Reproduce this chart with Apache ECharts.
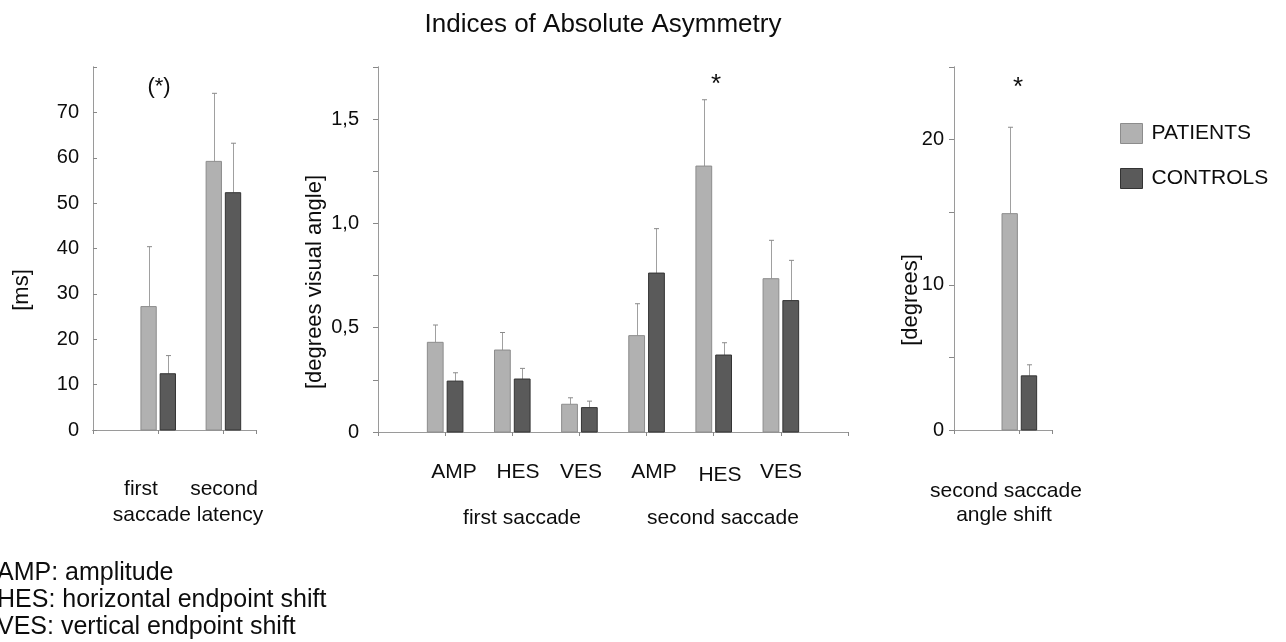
<!DOCTYPE html>
<html>
<head>
<meta charset="utf-8">
<script src="https://cdn.jsdelivr.net/npm/echarts@6/dist/echarts.min.js"></script>
<style>html,body{margin:0;padding:0;background:#fff;}#c{width:1286px;height:642px;}</style>
</head>
<body>
<div id="c"></div>
<script>
// ---- data ----
const leftPositions = [1, 2];                 // first / second saccade latency
const leftPatients = [27.2, 59.2];
const leftPatientsSD = [13.2, 15.0];
const leftControls = [12.4, 52.3];
const leftControlsSD = [4.0, 10.9];

const midPositions = [1, 2, 3, 4, 5, 6];
const midCategories = ['AMP', 'HES', 'VES', 'AMP', 'HES', 'VES'];
const midPatients = [0.43, 0.393, 0.133, 0.462, 1.275, 0.735];
const midPatientsSD = [0.083, 0.084, 0.031, 0.153, 0.318, 0.184];
const midControls = [0.244, 0.254, 0.117, 0.762, 0.369, 0.630];
const midControlsSD = [0.040, 0.051, 0.031, 0.213, 0.059, 0.193];

const rightPositions = [1];                   // second saccade angle shift
const rightPatients = [14.9];
const rightPatientsSD = [5.95];
const rightControls = [3.73];
const rightControlsSD = [0.76];

const seriesNames = ['PATIENTS', 'CONTROLS'];
const abbreviations = ['AMP: amplitude', 'HES: horizontal endpoint shift', 'VES: vertical endpoint shift'];

// ---- styles ----
const FONT = 'Liberation Sans, Arial, sans-serif';
const TEXT = '#0d0d0d';
const PAT_FILL = '#b1b1b1', PAT_STROKE = '#8c8c8c';
const CON_FILL = '#5a5a5a', CON_STROKE = '#333333';
const FRAME = '#9a9a9a';

function makeRender(side, stroke) {
  return function (params, api) {
    const c = api.value(0), v = api.value(1), sd = api.value(2);
    const xa = side < 0 ? c - 0.265 : c + 0.03;
    const xb = side < 0 ? c - 0.03 : c + 0.265;
    const tl = api.coord([xa, v]);
    const br = api.coord([xb, 0]);
    const et = api.coord([(xa + xb) / 2, v + sd]);
    const xm = Math.round((tl[0] + br[0]) / 2) + 0.5;
    return {
      type: 'group',
      children: [
        { type: 'line', shape: { x1: xm, y1: et[1], x2: xm, y2: tl[1] }, style: { stroke: '#a0a0a0', lineWidth: 1 } },
        { type: 'line', shape: { x1: xm - 2.5, y1: et[1], x2: xm + 2.5, y2: et[1] }, style: { stroke: '#8a8a8a', lineWidth: 1 } },
        { type: 'rect', shape: { x: tl[0], y: tl[1], width: br[0] - tl[0], height: br[1] - tl[1] },
          style: { fill: api.visual('color'), stroke: stroke, lineWidth: 1 } }
      ]
    };
  };
}

function mk(name, xi, yi, pos, vals, sds, side) {
  const fill = side < 0 ? PAT_FILL : CON_FILL;
  const stroke = side < 0 ? PAT_STROKE : CON_STROKE;
  return {
    type: 'custom', name: name, xAxisIndex: xi, yAxisIndex: yi,
    itemStyle: { color: fill },
    data: pos.map((p, i) => [p, vals[i], sds[i]]),
    renderItem: makeRender(side, stroke),
    clip: false
  };
}

const grids = [
  { left: 93, top: 67, width: 163, height: 363 },
  { left: 378, top: 67, width: 470, height: 365 },
  { left: 954, top: 67, width: 98, height: 363 }
];
const xMax = [2.5, 7, 1.5];

const xAxes = [];
grids.forEach((g, i) => {
  xAxes.push({ type: 'value', gridIndex: i, min: 0, max: xMax[i], interval: 0.5, position: 'bottom',
    axisLine: { show: true, lineStyle: { color: '#555', width: 1 } }, axisTick: { show: false },
    axisLabel: { show: false }, splitLine: { show: false } });
  xAxes.push({ type: 'value', gridIndex: i, min: 0, max: xMax[i], interval: 1, position: 'top',
    axisLine: { show: true, lineStyle: { color: FRAME, width: 1 } },
    axisTick: { show: true, inside: true, length: 4, lineStyle: { color: '#888' } },
    axisLabel: { show: false }, splitLine: { show: false } });
});

const labelStyle = { fontFamily: FONT, fontSize: 20, color: TEXT };
const yAxes = [
  { type: 'value', gridIndex: 0, min: 0, max: 80, interval: 10, position: 'left',
    axisLine: { show: true, lineStyle: { color: FRAME } },
    axisTick: { show: true, inside: true, length: 4, lineStyle: { color: '#888' } },
    axisLabel: Object.assign({ margin: 14, formatter: v => v === 80 ? '' : String(v) }, labelStyle),
    splitLine: { show: false } },
  { type: 'value', gridIndex: 0, min: 0, max: 80, interval: 10, position: 'right',
    axisLine: { show: true, lineStyle: { color: FRAME } }, axisTick: { show: false },
    axisLabel: { show: false }, splitLine: { show: false } },
  { type: 'value', gridIndex: 1, min: 0, max: 1.75, interval: 0.25, position: 'left',
    axisLine: { show: true, lineStyle: { color: FRAME } }, axisTick: { show: false },
    axisLabel: Object.assign({ margin: 19, formatter: v => {
      const k = v / 0.5;
      if (Math.abs(k - Math.round(k)) > 1e-6) return '';
      if (v === 0) return '0';
      return v.toFixed(1).replace('.', ',');
    } }, labelStyle),
    splitLine: { show: false } },
  { type: 'value', gridIndex: 1, min: 0, max: 1.75, interval: 0.25, position: 'right',
    axisLine: { show: true, lineStyle: { color: FRAME } },
    axisTick: { show: true, inside: true, length: 5, lineStyle: { color: '#888' } },
    axisLabel: { show: false }, splitLine: { show: false } },
  { type: 'value', gridIndex: 2, min: 0, max: 25, interval: 5, position: 'left',
    axisLine: { show: true, lineStyle: { color: FRAME } }, axisTick: { show: false },
    axisLabel: Object.assign({ margin: 10, formatter: v => (v % 10 === 0 && v <= 20) ? String(v) : '' }, labelStyle),
    splitLine: { show: false } },
  { type: 'value', gridIndex: 2, min: 0, max: 25, interval: 5, position: 'right',
    axisLine: { show: true, lineStyle: { color: FRAME } },
    axisTick: { show: true, inside: true, length: 5, lineStyle: { color: '#888' } },
    axisLabel: { show: false }, splitLine: { show: false } }
];

const series = [
  mk(seriesNames[0], 0, 0, leftPositions, leftPatients, leftPatientsSD, -1),
  mk(seriesNames[1], 0, 0, leftPositions, leftControls, leftControlsSD, 1),
  mk(seriesNames[0], 2, 2, midPositions, midPatients, midPatientsSD, -1),
  mk(seriesNames[1], 2, 2, midPositions, midControls, midControlsSD, 1),
  mk(seriesNames[0], 4, 4, rightPositions, rightPatients, rightPatientsSD, -1),
  mk(seriesNames[1], 4, 4, rightPositions, rightControls, rightControlsSD, 1)
];

function txt(text, x, y, size, opts) {
  return Object.assign({ type: 'text', x: x, y: y, silent: true,
    style: Object.assign({ text: text, fontFamily: FONT, fontSize: size, fill: TEXT,
      textAlign: 'center', textVerticalAlign: 'middle' }, (opts && opts.style) || {}) },
    opts && opts.rotation ? { rotation: opts.rotation } : {});
}

// x-axis category text positions (measured)
const midLabelX = [454, 518, 581, 654, 720, 781];
const midLabelY = [472, 472, 472, 472, 475, 472];

const graphics = [
  txt('Indices of Absolute Asymmetry', 603, 25, 26),
  txt('(*)', 159, 87, 22),
  txt('*', 716, 85, 26),
  txt('*', 1018, 88, 26),
  txt('[ms]', 22, 290, 22, { rotation: Math.PI / 2 }),
  txt('[degrees visual angle]', 315, 282, 22, { rotation: Math.PI / 2 }),
  txt('[degrees]', 911, 300, 22, { rotation: Math.PI / 2 }),
  txt('first', 141, 489, 21),
  txt('second', 224, 489, 21),
  txt('saccade latency', 188, 515, 21),
  txt('first saccade', 522, 518, 21),
  txt('second saccade', 723, 518, 21),
  txt('second saccade', 1006, 491, 21),
  txt('angle shift', 1004, 515, 21)
];
midCategories.forEach((c, i) => graphics.push(txt(c, midLabelX[i], midLabelY[i], 21)));
abbreviations.forEach((t, i) => graphics.push(txt(t, -3, 573 + i * 27, 25, { style: { textAlign: 'left' } })));

const chart = echarts.init(document.getElementById('c'), null, { renderer: 'canvas' });
chart.setOption({
  animation: false,
  backgroundColor: '#ffffff',
  grid: grids,
  xAxis: xAxes,
  yAxis: yAxes,
  legend: {
    orient: 'vertical', left: 1120, top: 123, padding: 0, itemWidth: 22, itemHeight: 20, itemGap: 24,
    icon: 'rect',
    data: [
      { name: 'PATIENTS', itemStyle: { color: PAT_FILL, borderColor: PAT_STROKE, borderWidth: 1 } },
      { name: 'CONTROLS', itemStyle: { color: CON_FILL, borderColor: CON_STROKE, borderWidth: 1 } }
    ],
    textStyle: { fontFamily: FONT, fontSize: 21, color: TEXT, padding: [0, 0, 0, 4] },
    selectedMode: false
  },
  series: series,
  graphic: graphics
});
</script>
</body>
</html>
